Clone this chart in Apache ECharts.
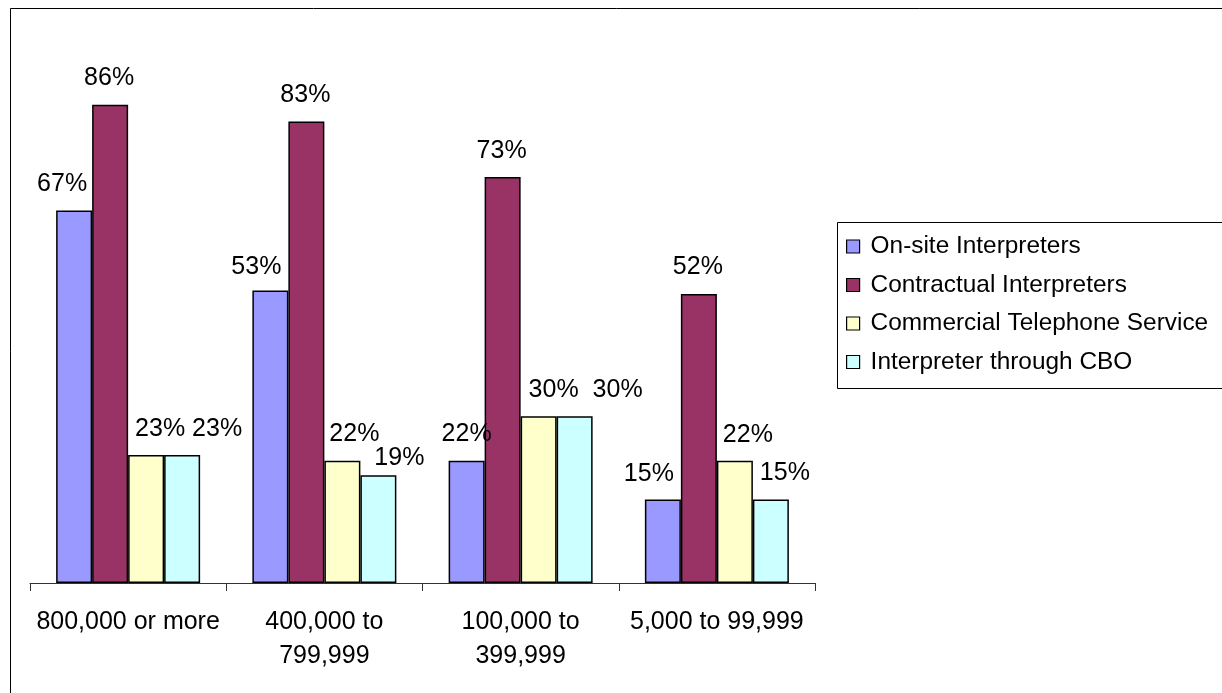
<!DOCTYPE html>
<html>
<head>
<meta charset="utf-8">
<script src="https://cdn.jsdelivr.net/npm/echarts@6/dist/echarts.min.js"></script>
<style>
html,body{margin:0;padding:0;background:#fff;}
#c{width:1222px;height:693px;}
</style>
</head>
<body>
<div id="c"></div>
<script>
const categories = ['800,000 or more', '400,000 to 799,999', '100,000 to 399,999', '5,000 to 99,999'];
const seriesNames = ['On-site Interpreters', 'Contractual Interpreters', 'Commercial Telephone Service', 'Interpreter through CBO'];
const onSite = [67, 52.6, 22, 15];
const contractual = [86, 83, 73, 52];
const telephone = [23, 22, 30, 22];
const cbo = [23, 19.4, 30, 15];

const values = [onSite, contractual, telephone, cbo];
const colors = ['#9999FF', '#993366', '#FFFFCC', '#CCFFFF'];
// label nudges [dx, dy] per series per category (layout only)
const labelNudge = [
  [[-12, 0], [-14, 3], [0, 0], [-14, 1]],
  [[-1, 0], [-1, 0], [-1, 0], [-1, 0]],
  [[14, 0], [12, 0], [15, 0], [13, 1]],
  [[35, 0], [21, 9], [43, 0], [14, 0]]
];
const FONT = '"Liberation Sans", Arial, sans-serif';
const FS = 25;

const chart = echarts.init(document.getElementById('c'), null, {renderer: 'canvas'});
const series = seriesNames.map((name, s) => ({
  name: name,
  type: 'bar',
  barWidth: 36,
  barGap: '0%',
  itemStyle: {color: colors[s], borderColor: '#000', borderWidth: 1.5},
  label: {
    show: true,
    position: 'top',
    distance: 14,
    color: '#000',
    fontFamily: FONT,
    fontSize: FS,
    formatter: p => Math.round(p.value) + '%'
  },
  data: values[s].map((v, i) => ({value: v, label: {offset: labelNudge[s][i]}}))
}));

chart.setOption({
  animation: false,
  backgroundColor: '#fff',
  textStyle: {fontFamily: FONT},
  grid: {left: 30, right: 407, top: 27, bottom: 110, containLabel: false},
  xAxis: {
    type: 'category',
    data: categories,
    axisLine: {lineStyle: {color: '#333', width: 1}},
    axisTick: {show: true, length: 8, lineStyle: {color: '#333'}},
    axisLabel: {
      color: '#000', fontFamily: FONT, fontSize: FS, lineHeight: 34,
      margin: 22, interval: 0,
      formatter: v => v.length > 15 ? v.replace(' to ', ' to\n') : v
    }
  },
  yAxis: {
    type: 'value', min: 0, max: 100, interval: 20, show: false,
    splitLine: {show: false}
  },
  legend: {
    orient: 'vertical',
    left: 846,
    top: 234,
    padding: 0,
    icon: 'rect',
    itemWidth: 13,
    itemHeight: 13,
    itemGap: 13.5,
    itemStyle: {borderColor: '#000', borderWidth: 1.2},
    textStyle: {color: '#000', fontFamily: FONT, fontSize: 24.4, lineHeight: 25, padding: [0, 0, 0, 6]},
    data: seriesNames
  },
  graphic: [
    {type: 'rect', shape: {x: 10.5, y: 8.5, width: 1400, height: 900}, style: {fill: 'none', stroke: '#000', lineWidth: 1}, silent: true, z: -1},
    {type: 'rect', shape: {x: 837.5, y: 222.5, width: 500, height: 166}, style: {fill: 'none', stroke: '#000', lineWidth: 1}, silent: true}
  ],
  series: series
});
</script>
</body>
</html>
